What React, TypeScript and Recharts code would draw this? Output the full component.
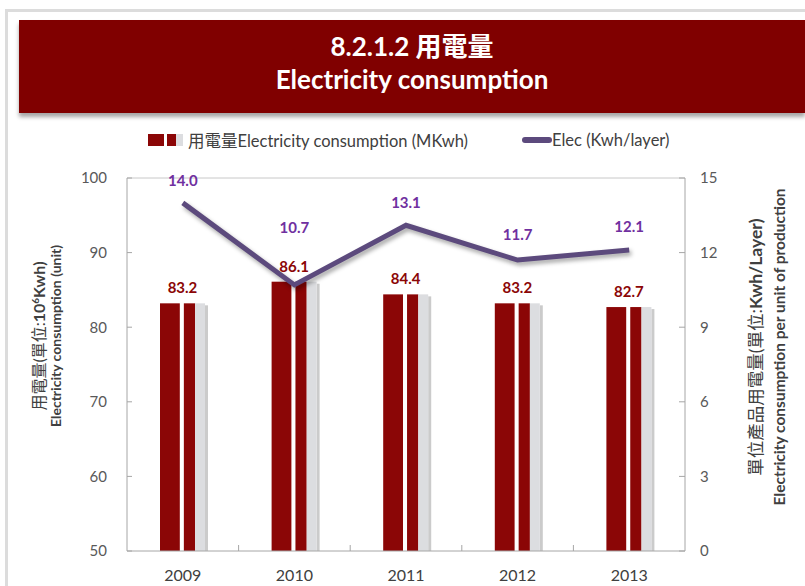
import React from "react";
import {
  ComposedChart,
  Bar,
  Line,
  XAxis,
  YAxis,
  LabelList,
  ReferenceLine,
} from "recharts";

const years = ["2009", "2010", "2011", "2012", "2013"];
const consumption = [83.2, 86.1, 84.4, 83.2, 82.7];
const perLayer = [14.0, 10.7, 13.1, 11.7, 12.1];
const leftTicks = [50, 60, 70, 80, 90, 100];
const rightTicks = [0, 3, 6, 9, 12, 15];

const data = years.map((year, i) => ({
  year,
  consumption: consumption[i],
  perLayer: perLayer[i],
}));

const FONT = "Lato, 'Noto Sans CJK TC', sans-serif";
const RED = "#8b0606";
const GREY_BAR = "#dcdde0";
const PURPLE_LINE = "#5c4a7d";
const PURPLE_TEXT = "#7030a0";
const AXIS = "#a6a6a6";
const TEXT = "#404040";

const PLOT_LEFT = 127;
const PLOT_RIGHT = 685;
const PLOT_TOP = 178;
const PLOT_BOTTOM = 551;
const BAND = (PLOT_RIGHT - PLOT_LEFT) / years.length;
// label lift above each line point (the 2010 one is pushed up to clear the bar label)
const LINE_LABEL_LIFT = [17, 52, 17, 20, 18];

const StripedBar = (props: any) => {
  const { x, y, width, height } = props;
  const a = width * 0.44;
  const gap = width * 0.09;
  const b = width * 0.25;
  const c = width - a - gap - b;
  return (
    <g>
      <rect x={x + width} y={y + 2} width={3} height={height - 2} fill="#b5b5b5" opacity={0.7} />
      <rect x={x} y={y} width={a} height={height} fill={RED} />
      <rect x={x + a + gap} y={y} width={b} height={height} fill={RED} />
      <rect x={x + a + gap + b} y={y} width={c} height={height} fill={GREY_BAR} />
    </g>
  );
};

const YearTick = (props: any) => {
  const { x, y, payload, index } = props;
  return (
    <g>
      {index > 0 && (
        <line x1={x - BAND / 2} x2={x - BAND / 2} y1={y} y2={y - 6} stroke={AXIS} />
      )}
      <text x={x} y={y + 30} textAnchor="middle" fontSize={16} fill={TEXT} fontFamily={FONT}>
        {payload.value}
      </text>
    </g>
  );
};

const LineLabel = (props: any) => {
  const { x, y, value, index } = props;
  return (
    <text
      x={x}
      y={y - LINE_LABEL_LIFT[index]}
      textAnchor="middle"
      fontSize={15}
      fontWeight="bold"
      fill={PURPLE_TEXT}
      fontFamily={FONT}
    >
      {Number(value).toFixed(1)}
    </text>
  );
};

const LeftTitle = () => {
  const cy = 336;
  return (
    <g fontFamily={FONT} fill={TEXT}>
      <text x={45} y={cy} textAnchor="middle" fontSize={16} transform={`rotate(-90, 45, ${cy})`}>
        用電量(單位:<tspan fontWeight="bold">10</tspan>
        <tspan fontWeight="bold" fontSize={10} dy={-6}>6</tspan>
        <tspan fontWeight="bold" dy={6}>Kwh)</tspan>
      </text>
      <text
        x={61}
        y={cy}
        textAnchor="middle"
        fontWeight="bold"
        fontSize={14}
        transform={`rotate(-90, 61, ${cy})`}
      >
        Electricity consumption (unit)
      </text>
    </g>
  );
};

const RightTitle = () => {
  const cy = 347;
  return (
    <g fontFamily={FONT} fill={TEXT}>
      <text x={762} y={cy} textAnchor="middle" fontSize={17.5} transform={`rotate(-90, 762, ${cy})`}>
        單位產品用電量(單位:<tspan fontWeight="bold">Kwh/Layer)</tspan>
      </text>
      <text
        x={785}
        y={cy}
        textAnchor="middle"
        fontWeight="bold"
        fontSize={15.5}
        transform={`rotate(-90, 785, ${cy})`}
      >
        Electricity consumption per unit of production
      </text>
    </g>
  );
};

const LegendBox = () => (
  <div
    style={{
      position: "absolute",
      left: 148,
      top: 128,
      display: "flex",
      alignItems: "center",
      fontFamily: FONT,
      fontSize: 16.5,
      color: TEXT,
      whiteSpace: "nowrap",
    }}
  >
    <svg width={36} height={14} style={{ marginRight: 4 }}>
      <rect x={0} y={1} width={16} height={12} fill={RED} />
      <rect x={19} y={1} width={9} height={12} fill={RED} />
      <rect x={28} y={1} width={7} height={12} fill={GREY_BAR} />
    </svg>
    <span>用電量Electricity consumption (MKwh)</span>
    <svg width={30} height={14} style={{ marginLeft: 54 }}>
      <line x1={3} y1={7} x2={27} y2={7} stroke={PURPLE_LINE} strokeWidth={6} strokeLinecap="round" />
    </svg>
    <span>Elec (Kwh/layer)</span>
  </div>
);

export default function App() {
  return (
    <div
      style={{
        position: "absolute",
        left: 0,
        top: 0,
        width: 805,
        height: 586,
        background: "#fff",
        overflow: "hidden",
      }}
    >
      <style>{`.elec-line path { filter: drop-shadow(2px 3px 2px rgba(0,0,0,0.35)); }`}</style>
      <div style={{ position: "absolute", left: 5, top: 9, width: 800, height: 3, background: "#dcdcdc" }} />
      <div style={{ position: "absolute", left: 5, top: 9, width: 3, height: 577, background: "#dcdcdc" }} />
      <div
        style={{
          position: "absolute",
          left: 19,
          top: 20,
          width: 786,
          height: 93,
          background: "#800000",
          boxShadow: "0 4px 4px rgba(0,0,0,0.35)",
          color: "#fff",
          fontFamily: FONT,
          fontWeight: "bold",
          textAlign: "center",
        }}
      >
        <div style={{ fontSize: 26, marginTop: 11, lineHeight: "30px" }}>8.2.1.2 用電量</div>
        <div style={{ fontSize: 26, marginTop: 3, lineHeight: "30px" }}>Electricity consumption</div>
      </div>
      <LegendBox />
      <div style={{ position: "absolute", left: 0, top: 0 }}>
        <ComposedChart
          width={805}
          height={586}
          data={data}
          margin={{ top: PLOT_TOP, right: 0, bottom: 0, left: 0 }}
          barCategoryGap={0}
        >
          <XAxis
            dataKey="year"
            height={586 - PLOT_BOTTOM}
            axisLine={{ stroke: AXIS }}
            tickLine={false}
            tickSize={0}
            tickMargin={0}
            tick={<YearTick />}
            interval={0}
          />
          <YAxis
            yAxisId="left"
            orientation="left"
            width={PLOT_LEFT}
            domain={[50, 100]}
            ticks={leftTicks}
            axisLine={{ stroke: AXIS }}
            tickLine={{ stroke: AXIS }}
            tickSize={-5}
            tickMargin={25}
            tick={{ fill: "#595959", fontSize: 15, fontFamily: FONT }}
            label={{ content: <LeftTitle /> }}
          />
          <YAxis
            yAxisId="right"
            orientation="right"
            width={805 - PLOT_RIGHT}
            domain={[0, 15]}
            ticks={rightTicks}
            axisLine={{ stroke: AXIS }}
            tickLine={{ stroke: AXIS }}
            tickSize={-6}
            tickMargin={21}
            tick={{ fill: "#595959", fontSize: 15, fontFamily: FONT, textAnchor: "start" }}
            label={{ content: <RightTitle /> }}
          />
          <ReferenceLine yAxisId="left" y={100} stroke="#c8c8c8" />
          <Bar
            yAxisId="left"
            dataKey="consumption"
            barSize={45}
            shape={<StripedBar />}
            isAnimationActive={false}
          >
            <LabelList
              dataKey="consumption"
              position="top"
              offset={10}
              fill={RED}
              fontSize={15}
              fontWeight="bold"
              fontFamily={FONT}
              formatter={(v: any) => Number(v).toFixed(1)}
            />
          </Bar>
          <Line
            yAxisId="right"
            dataKey="perLayer"
            className="elec-line"
            stroke={PURPLE_LINE}
            strokeWidth={5}
            dot={false}
            activeDot={false}
            isAnimationActive={false}
          >
            <LabelList dataKey="perLayer" content={<LineLabel />} />
          </Line>
        </ComposedChart>
      </div>
    </div>
  );
}
